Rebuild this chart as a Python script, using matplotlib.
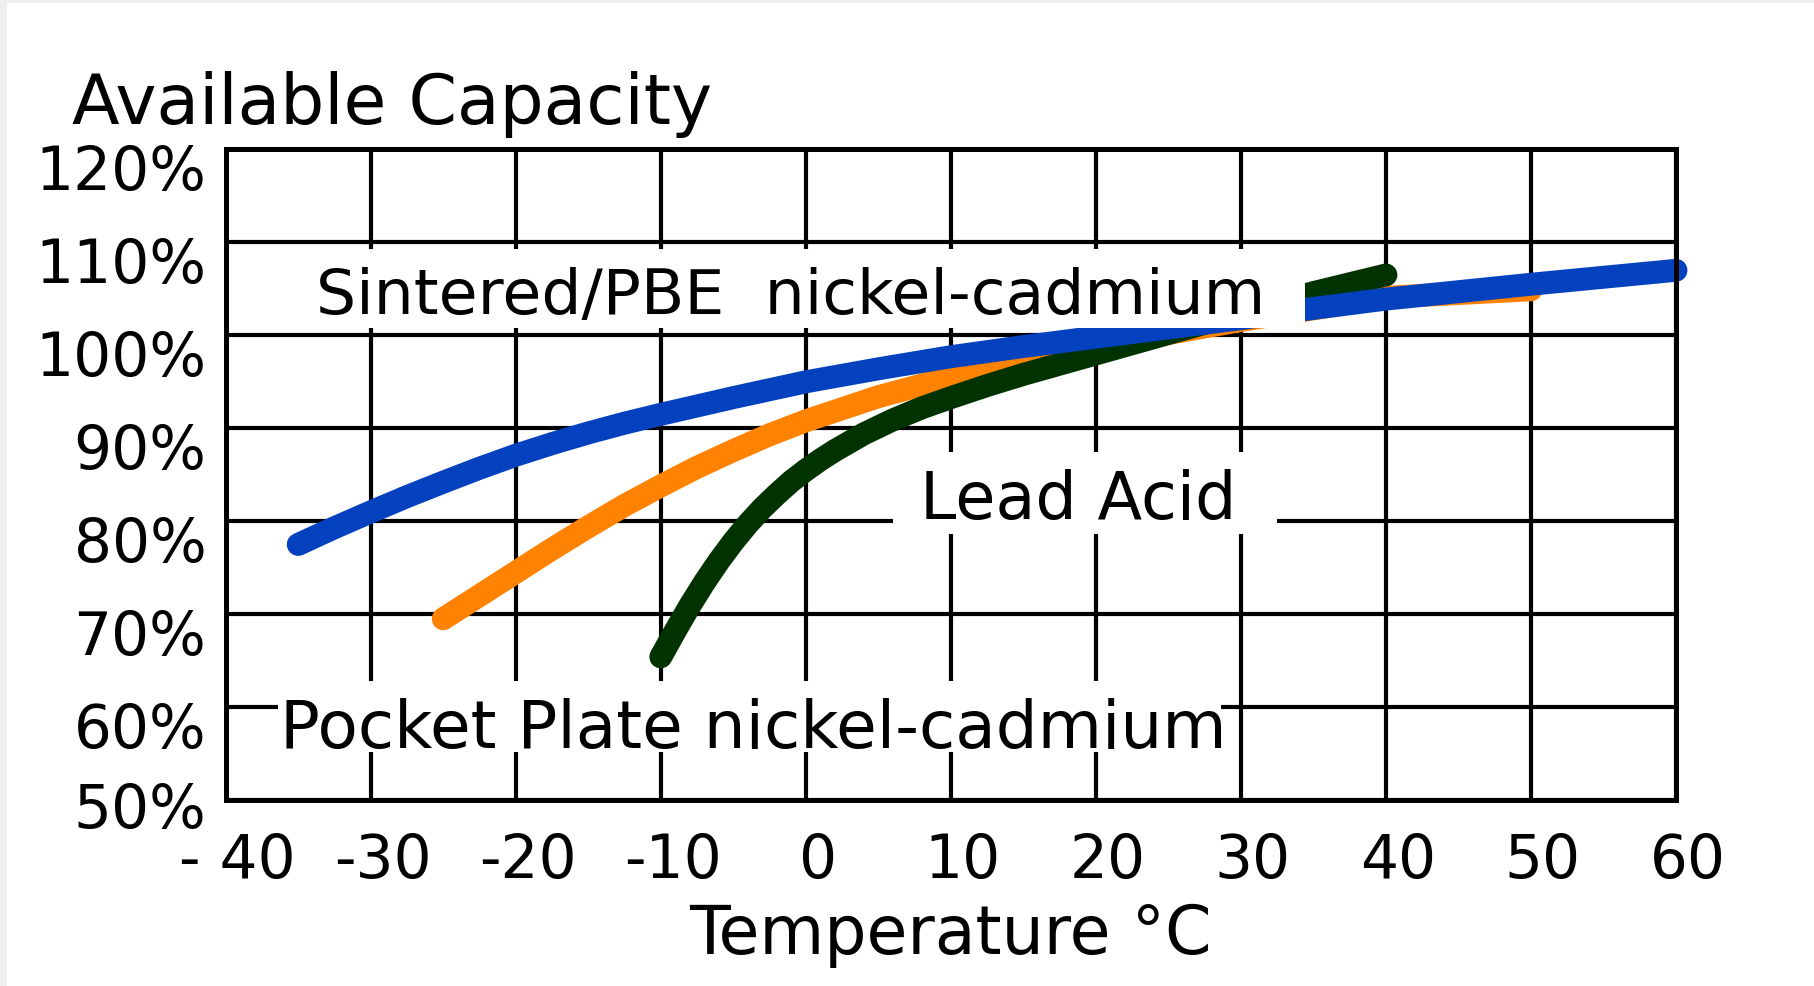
import matplotlib
matplotlib.use("Agg")
import matplotlib.pyplot as plt
import matplotlib.transforms as mtransforms
from matplotlib.patches import Rectangle

plt.rcParams['font.family'] = ['DejaVu Sans']

# readings (temperature in deg C, capacity in %)
sintered_temp = [-35, -32.5, -30, -27.5, -25, -22.5, -20, -17.5, -15, -12.5, -10, -5, 0, 5, 10,
                 15, 20, 25, 30, 35, 40, 50, 60]
sintered_cap = [77.5, 79.3, 81.0, 82.65, 84.2, 85.7, 87.1, 88.35, 89.5, 90.55, 91.5, 93.3,
                95.0, 96.4, 97.7, 98.8, 99.8, 100.8, 101.8, 102.9, 103.9, 105.5, 107.0]

lead_temp = [-25, -22.5, -20, -17.5, -15, -12.5, -10, -7.5, -5, -2.5, 0, 5, 10, 15, 20, 30, 40, 50]
lead_cap = [69.5, 72.0, 74.5, 77.0, 79.4, 81.7, 83.8, 85.8, 87.6, 89.3, 90.8, 93.4, 95.5,
            97.3, 98.8, 101.6, 104.1, 104.9]

pocket_temp = [-10, -9, -8, -7, -6, -5, -4, -3, -2, -1, 0, 1, 2, 4, 6, 8, 10, 12.5, 15,
               17.5, 20, 25, 30, 35, 40]
pocket_cap = [65.4, 68.2, 70.9, 73.4, 75.7, 77.8, 79.7, 81.4, 82.9, 84.3, 85.5, 86.6, 87.6,
              89.4, 90.9, 92.2, 93.3, 94.6, 95.8, 96.9, 98.0, 100.2, 102.4, 104.6, 106.5]

x_ticks = [-40, -30, -20, -10, 0, 10, 20, 30, 40, 50, 60]
x_labels = ["- 40", "-30", "-20", "-10", "0", "10", "20", "30", "40", "50", "60"]
y_ticks = [50, 60, 70, 80, 90, 100, 110, 120]
y_labels = ["50%", "60%", "70%", "80%", "90%", "100%", "110%", "120%"]

fig = plt.figure(figsize=(18.15, 9.87), dpi=100)
fig.patch.set_facecolor('white')
# thin grey border on the top and left edge
fig.patches.append(Rectangle((0, 0), 7 / 1815, 1, transform=fig.transFigure,
                             facecolor='#efefef', edgecolor='none'))
fig.patches.append(Rectangle((0, 983 / 987), 1, 4 / 987, transform=fig.transFigure,
                             facecolor='#efefef', edgecolor='none'))

ax = fig.add_axes([0.12435, 0.18845, 0.79907, 0.65907])
ax.set_zorder(2)
ax.set_xlim(-40, 60)
ax.set_ylim(50, 120)

line_kw = dict(lw=16.5, solid_capstyle='round', solid_joinstyle='round', clip_on=False)
ax.plot(lead_temp, lead_cap, color='#ff8200', zorder=3, **line_kw)
ax.plot(pocket_temp, pocket_cap, color='#003300', zorder=4, **line_kw)
ax.plot(sintered_temp, sintered_cap, color='#0341be', zorder=5, **line_kw)

ax.set_xticks(x_ticks)
ax.set_xticklabels(x_labels, fontsize=43)
ax.set_yticks(y_ticks)
ax.set_yticklabels(y_labels, fontsize=43)
ax.tick_params(length=0)
ax.tick_params(axis='x', pad=22)
ax.tick_params(axis='y', pad=14)
ax.grid(True, color='black', lw=3)
ax.set_axisbelow(True)
for s in ax.spines.values():
    s.set_linewidth(3.6)
    s.set_zorder(8)

dx = mtransforms.ScaledTranslation(0.12, 0, fig.dpi_scale_trans)
for lab in ax.get_xticklabels():
    lab.set_transform(lab.get_transform() + dx)
for lab in ax.get_yticklabels():
    shift = -0.04 if lab.get_text() == "50%" else -0.17
    lab.set_transform(lab.get_transform() + mtransforms.ScaledTranslation(0, shift, fig.dpi_scale_trans))

ax.set_xlabel("Temperature °C", fontsize=48)
ax.xaxis.set_label_coords(0.5, -0.206)
ax.xaxis.label.set_va('center')

fig.text(72 / 1815, 1 - 124 / 987, "Available Capacity", fontsize=50, va='baseline')

# white label boxes that cut the grid and curves
ax.add_patch(Rectangle((-34.7, 100.75), 69.1, 8.5, facecolor='white', edgecolor='none', zorder=6))
ax.add_patch(Rectangle((6.0, 78.6), 26.5, 8.8, facecolor='white', edgecolor='none', zorder=6))
ax.add_patch(Rectangle((-36.4, 55.2), 65.0, 7.6, facecolor='white', edgecolor='none', zorder=6))

ax.text(-33.8, 102.4, "Sintered/PBE  nickel-cadmium", fontsize=45.5, va='baseline', zorder=7)
ax.text(7.9, 80.3, "Lead Acid", fontsize=47, va='baseline', zorder=7)
ax.text(-36.25, 55.7, "Pocket Plate nickel-cadmium", fontsize=47.5, va='baseline', zorder=7)

fig.savefig("out.png", dpi=100, facecolor=fig.get_facecolor())
